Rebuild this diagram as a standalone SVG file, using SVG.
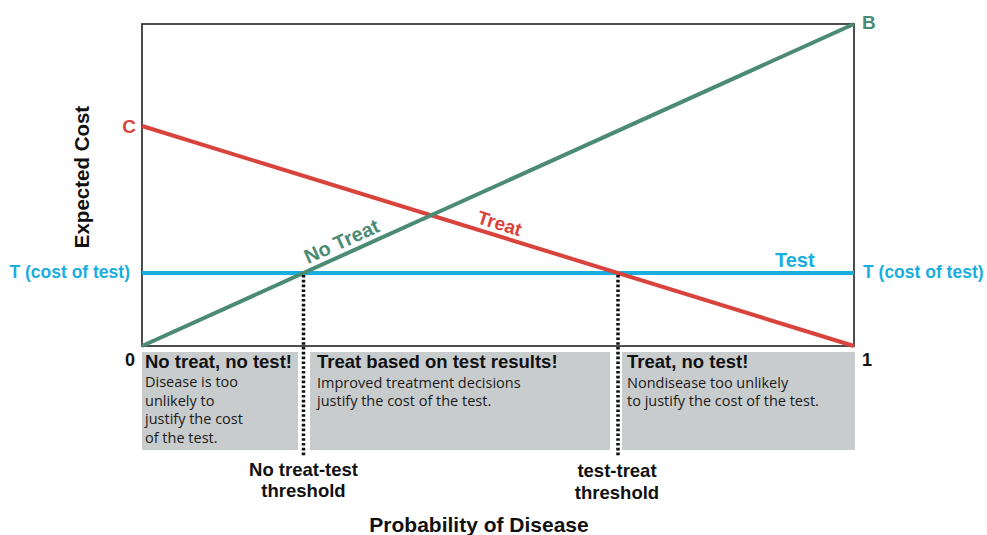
<svg xmlns="http://www.w3.org/2000/svg" width="987" height="535" viewBox="0 0 987 535">
<style>
.b{font-family:"Liberation Sans",Arial,Helvetica,sans-serif;font-weight:bold;}
.ax{fill:#111;}
.hd{font-size:18.5px;fill:#111;}
.bd{font-family:"Open Sans","Noto Sans",sans-serif;font-size:14.5px;fill:#1a1a1a;}
.reg{fill:#c9cccd;}
.grn{fill:#4b8b73;}
.red{fill:#d8433b;}
.blu{fill:#19aee0;}
.dot{stroke:#111;stroke-width:3.5;stroke-dasharray:2.6 2.2;fill:none;}
</style>
<rect width="987" height="535" fill="#ffffff"/>

<g id="regions">
  <g id="region-no-treat">
    <rect class="reg" x="142" y="352" width="156" height="98"/>
    <text class="b hd" x="145" y="367.5">No treat, no test!</text>
    <text class="bd" x="145" y="387">Disease is too</text>
    <text class="bd" x="145" y="405.5">unlikely to</text>
    <text class="bd" x="145" y="424">justify the cost</text>
    <text class="bd" x="145" y="442.5">of the test.</text>
  </g>
  <g id="region-test">
    <rect class="reg" x="310" y="352" width="300" height="98"/>
    <text class="b hd" x="317" y="367.5">Treat based on test results!</text>
    <text class="bd" x="317" y="387.5">Improved treatment decisions</text>
    <text class="bd" x="317" y="405.5">justify the cost of the test.</text>
  </g>
  <g id="region-treat">
    <rect class="reg" x="622" y="352" width="233" height="98"/>
    <text class="b hd" x="627" y="367.5">Treat, no test!</text>
    <text class="bd" x="627" y="387.5">Nondisease too unlikely</text>
    <text class="bd" x="627" y="405.5">to justify the cost of the test.</text>
  </g>
</g>

<g id="axes">
  <rect x="142" y="24" width="712" height="322" fill="none" stroke="#3a3a3a" stroke-width="1.8"/>
  <text class="b ax" x="135" y="366" font-size="18" text-anchor="end">0</text>
  <text class="b ax" x="862" y="366" font-size="18">1</text>
  <text class="b ax" font-size="20.5" text-anchor="middle" transform="translate(89,177) rotate(-90)">Expected Cost</text>
  <text class="b ax" x="479" y="532" font-size="21" text-anchor="middle">Probability of Disease</text>
</g>

<g id="connectors">
  <line x1="142" y1="273" x2="854" y2="273" stroke="#19aee0" stroke-width="4"/>
  <line x1="142" y1="126" x2="854" y2="346" stroke="#d8433b" stroke-width="4"/>
  <line x1="142" y1="346" x2="854" y2="24" stroke="#4b8b73" stroke-width="4"/>
  <line class="dot" x1="303.5" y1="275" x2="303.5" y2="457"/>
  <line class="dot" x1="618" y1="275" x2="618" y2="457"/>
</g>

<g id="labels">
  <text class="b red" x="136" y="133" font-size="19" text-anchor="end">C</text>
  <text class="b grn" x="862" y="29" font-size="19">B</text>
  <text class="b blu" x="130" y="278" font-size="17.5" text-anchor="end">T (cost of test)</text>
  <text class="b blu" x="863" y="278" font-size="17.5">T (cost of test)</text>
  <text class="b blu" x="775" y="267" font-size="20">Test</text>
  <text class="b grn" x="308" y="264" font-size="20" transform="rotate(-24.3 308 264)">No Treat</text>
  <text class="b red" x="476" y="223" font-size="19" transform="rotate(17.2 476 223)">Treat</text>
</g>

<g id="thresholds">
  <text class="b ax" x="303.5" y="476" font-size="18.5" text-anchor="middle">No treat-test</text>
  <text class="b ax" x="303.5" y="497" font-size="18.5" text-anchor="middle">threshold</text>
  <text class="b ax" x="617" y="477" font-size="18.5" text-anchor="middle">test-treat</text>
  <text class="b ax" x="617" y="499" font-size="18.5" text-anchor="middle">threshold</text>
</g>
</svg>
